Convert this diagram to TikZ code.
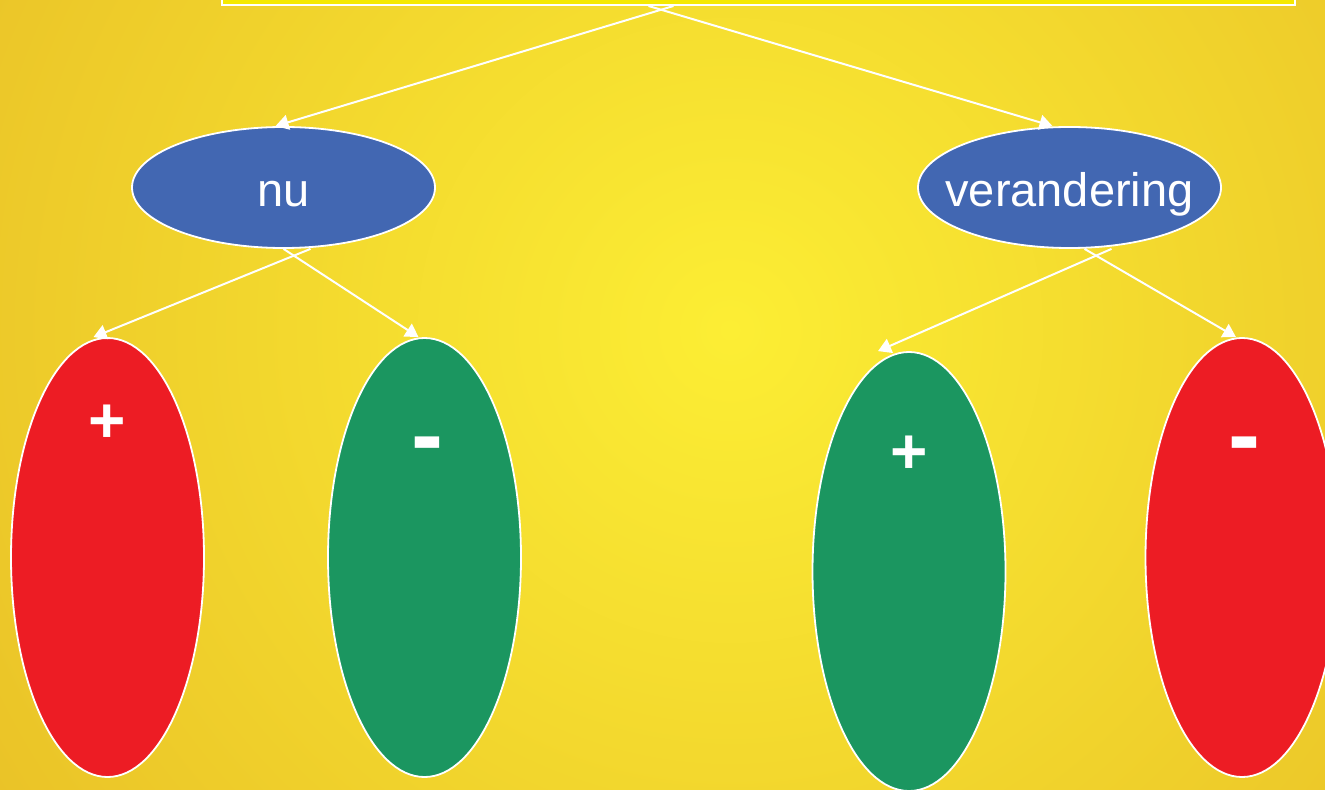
\documentclass[tikz,border=0pt]{standalone}
\usepackage{fontspec}
\setmainfont{Liberation Sans}
\usepackage{tikz}
\usetikzlibrary{arrows.meta,positioning,shapes.geometric,calc}
\definecolor{bgin}{RGB}{252,238,52}
\definecolor{bgout}{RGB}{226,176,34}
\definecolor{boxyellow}{RGB}{245,233,0}
\definecolor{nodeblue}{RGB}{66,103,178}
\definecolor{posred}{RGB}{237,28,36}
\definecolor{neggreen}{RGB}{27,150,96}

\begin{document}
\begin{tikzpicture}[
  x=0.5pt, y=-0.5pt,
  oval/.style={ellipse, draw=white, line width=0.9pt, inner sep=0pt},
  word/.style={oval, fill=nodeblue, minimum width=151.5pt, minimum height=60.5pt, text=white,
    text height=19.5pt, text depth=0pt, font=\fontsize{23.5}{28}\selectfont},
  pole/.style={oval, minimum width=96.5pt, minimum height=219.5pt},
  plus/.style={text=white, font=\bfseries\fontsize{32}{36}\selectfont, inner sep=0pt},
  minus/.style={text=white, font=\bfseries\fontsize{48}{52}\selectfont, inner sep=0pt},
  arr/.style={draw=white, line width=1pt, -{Triangle[length=6.5pt, width=7.5pt]}}
]
\path[use as bounding box, clip] (0,0) rectangle (1325,790);
\shade[inner color=bgin, outer color=bgout] (730,330) circle (1250);
\node[draw=white, line width=1pt, fill=boxyellow, minimum width=536.5pt, minimum height=13pt, anchor=south] (top) at (758.5,6) {};
\node[word] (nu) at (283.5,187.5) {\makebox[0pt]{nu}};
\node[word] (verandering) at (1069.5,187.5) {\makebox[0pt]{verandering}};
\node[pole, fill=posred] (nupos) at (107.5,557.5) {};
\node[pole, fill=neggreen] (nuneg) at (424.5,557.5) {};
\node[pole, fill=neggreen] (verpos) at (909,571.5) {};
\node[pole, fill=posred] (verneg) at (1242,557.5) {};
\node[plus] (nupos-sign) at ($(nupos)+(0,-134)$) {+};
\node[minus] (nuneg-sign) at ($(nuneg)+(3,-105)$) {-};
\node[plus] (verpos-sign) at ($(verpos)+(0,-117)$) {+};
\node[minus] (verneg-sign) at ($(verneg)+(2,-105)$) {-};
\draw[arr] ($(top.south)+(-85,0)$) -- ($(nu.north)+(-8,0)$);
\draw[arr] ($(top.south)+(-110,0)$) -- ($(verandering.north)+(-17,0)$);
\draw[arr] ($(nu.south)+(27,0)$) -- ($(nupos.north)+(-14,0)$);
\draw[arr] (nu.south) -- ($(nuneg.north)+(-6,0)$);
\draw[arr] ($(verandering.south)+(42,0)$) -- ($(verpos.north)+(-31,0)$);
\draw[arr] ($(verandering.south)+(15,0)$) -- ($(verneg.north)+(-6,0)$);
\end{tikzpicture}
\end{document}
